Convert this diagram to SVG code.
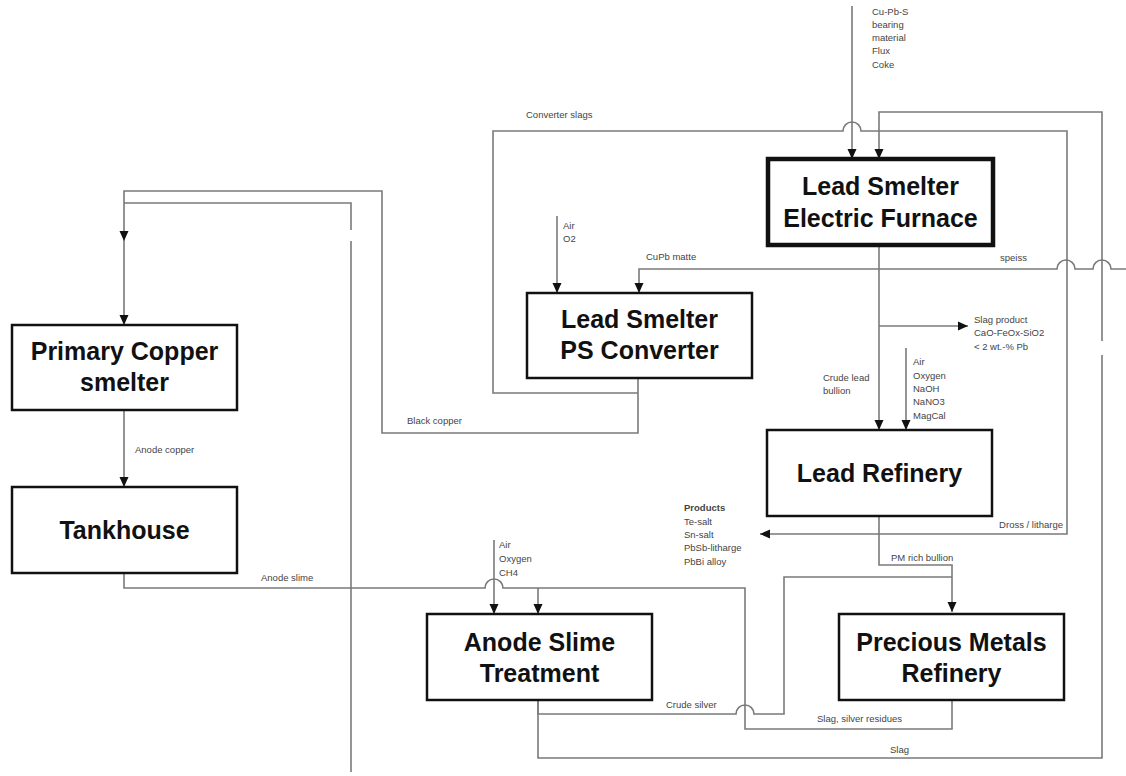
<svg xmlns="http://www.w3.org/2000/svg" width="1126" height="776" viewBox="0 0 1126 776">
<style>
.box{fill:#fff;stroke:#111;stroke-width:2.5}
.thick{stroke-width:4.5}
.bt{font-family:"Liberation Sans",Arial,sans-serif;font-weight:bold;font-size:25px;fill:#111;text-anchor:middle}
.c{fill:none;stroke:#7a7a7a;stroke-width:1.6}
.lb{font-family:"Liberation Sans",Arial,sans-serif;font-size:9.5px;fill:#444}
</style>
<defs>
<marker id="ar" markerUnits="userSpaceOnUse" markerWidth="12" markerHeight="12" viewBox="0 0 12 12" refX="10" refY="6" orient="auto">
<path d="M0,1.5 L10,6 L0,10.5 Z" fill="#111"/>
</marker>
</defs>
<rect width="1126" height="776" fill="#fff"/>
<g id="connectors">
<path class="c" d="M852,6 V159" marker-end="url(#ar)"/>
<path class="c" d="M638,393 H493 V131 H843 A9,9 0 0 1 861,131 H1067 V534 H760" marker-end="url(#ar)"/>
<path class="c" d="M1102,355 V758 H538 V700"/>
<path class="c" d="M1102,341 V112 H879 V159" marker-end="url(#ar)"/>
<path class="c" d="M1126,269 H1111 A9,9 0 0 0 1093,269 H1075 A9,9 0 0 0 1057,269 H639 V293" marker-end="url(#ar)"/>
<path class="c" d="M879,245 V430" marker-end="url(#ar)"/>
<path class="c" d="M879,326 H968" marker-end="url(#ar)"/>
<path class="c" d="M906,348 V430" marker-end="url(#ar)"/>
<path class="c" d="M557,216 V293" marker-end="url(#ar)"/>
<path class="c" d="M638,378 V433 H382 V191 H124 V241" marker-end="url(#ar)"/>
<path class="c" d="M124,241 V325" marker-end="url(#ar)"/>
<path class="c" d="M124,203 H351 V230"/>
<path class="c" d="M351,241 V772"/>
<path class="c" d="M124,410 V487" marker-end="url(#ar)"/>
<path class="c" d="M124,573 V588 H485 A9,9 0 0 1 503,588 H745 V729 H952 V700"/>
<path class="c" d="M538,588 V614" marker-end="url(#ar)"/>
<path class="c" d="M494,540 V614" marker-end="url(#ar)"/>
<path class="c" d="M538,700 V714 H736 A9,9 0 0 1 754,714 H784 V577 H952"/>
<path class="c" d="M879,516 V565 H952 V612" marker-end="url(#ar)"/>
</g>
<g id="electric-furnace">
<rect class="box thick" x="768" y="159" width="225" height="86"/>
<text class="bt" x="880.5" y="195">Lead Smelter</text>
<text class="bt" x="880.5" y="227">Electric Furnace</text>
</g>
<g id="ps-converter">
<rect class="box" x="527" y="293" width="225" height="85"/>
<text class="bt" x="639.5" y="328">Lead Smelter</text>
<text class="bt" x="639.5" y="359">PS Converter</text>
</g>
<g id="primary-copper">
<rect class="box" x="12" y="325" width="225" height="85"/>
<text class="bt" x="124.5" y="360">Primary Copper</text>
<text class="bt" x="124.5" y="391">smelter</text>
</g>
<g id="tankhouse">
<rect class="box" x="12" y="487" width="225" height="86"/>
<text class="bt" x="124.5" y="539">Tankhouse</text>
</g>
<g id="lead-refinery">
<rect class="box" x="767" y="430" width="225" height="86"/>
<text class="bt" x="879.5" y="482">Lead Refinery</text>
</g>
<g id="anode-slime">
<rect class="box" x="427" y="614" width="225" height="86"/>
<text class="bt" x="539.5" y="651">Anode Slime</text>
<text class="bt" x="539.5" y="682">Treatment</text>
</g>
<g id="pm-refinery">
<rect class="box" x="839" y="614" width="225" height="86"/>
<text class="bt" x="951.5" y="651">Precious Metals</text>
<text class="bt" x="951.5" y="682">Refinery</text>
</g>
<g id="labels">
<text class="lb" x="872" y="15">Cu-Pb-S</text>
<text class="lb" x="872" y="28">bearing</text>
<text class="lb" x="872" y="41">material</text>
<text class="lb" x="872" y="54">Flux</text>
<text class="lb" x="872" y="68">Coke</text>
<text class="lb" x="526" y="118">Converter slags</text>
<text class="lb" x="563" y="229">Air</text>
<text class="lb" x="563" y="242">O2</text>
<text class="lb" x="646" y="260">CuPb matte</text>
<text class="lb" x="1000" y="261">speiss</text>
<text class="lb" x="974" y="323">Slag product</text>
<text class="lb" x="974" y="336">CaO-FeOx-SiO2</text>
<text class="lb" x="974" y="350">&lt; 2 wt.-% Pb</text>
<text class="lb" x="823" y="381">Crude lead</text>
<text class="lb" x="823" y="394">bullion</text>
<text class="lb" x="913" y="365">Air</text>
<text class="lb" x="913" y="379">Oxygen</text>
<text class="lb" x="913" y="392">NaOH</text>
<text class="lb" x="913" y="405">NaNO3</text>
<text class="lb" x="913" y="419">MagCal</text>
<text class="lb" x="407" y="424">Black copper</text>
<text class="lb" x="135" y="453">Anode copper</text>
<text class="lb" x="684" y="511" font-weight="bold">Products</text>
<text class="lb" x="684" y="525">Te-salt</text>
<text class="lb" x="684" y="538">Sn-salt</text>
<text class="lb" x="684" y="551">PbSb-litharge</text>
<text class="lb" x="684" y="565">PbBi alloy</text>
<text class="lb" x="1063" y="528" text-anchor="end">Dross / litharge</text>
<text class="lb" x="891" y="561">PM rich bullion</text>
<text class="lb" x="261" y="581">Anode slime</text>
<text class="lb" x="499" y="548">Air</text>
<text class="lb" x="499" y="562">Oxygen</text>
<text class="lb" x="499" y="576">CH4</text>
<text class="lb" x="666" y="708">Crude silver</text>
<text class="lb" x="817" y="722">Slag, silver residues</text>
<text class="lb" x="890" y="753">Slag</text>
</g>
</svg>
